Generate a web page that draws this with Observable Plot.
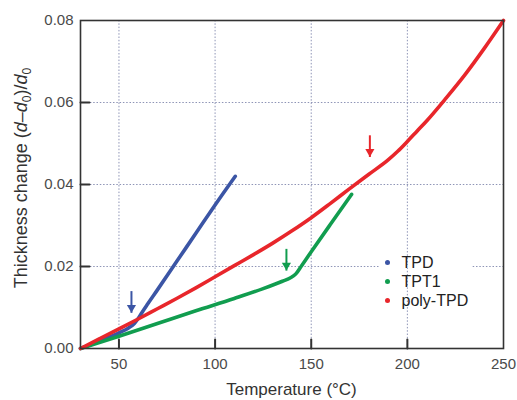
<!DOCTYPE html>
<html><head><meta charset="utf-8">
<script src="https://cdn.jsdelivr.net/npm/d3@7"></script>
<script src="https://cdn.jsdelivr.net/npm/@observablehq/plot@0.6"></script>
<style>
body{margin:0;background:#fff;}
#wrap{position:relative;width:517px;height:400px;font-family:"Liberation Sans",Arial,sans-serif;}
#gap{position:absolute;left:380px;top:264.5px;width:91px;height:3px;background:#fff;}
#legend{position:absolute;left:384.5px;top:252.5px;font-size:16px;color:#222;}
#legend .row{height:19px;line-height:19px;white-space:nowrap;}
#legend .sw{display:inline-block;width:5px;height:5px;border-radius:50%;margin-right:12px;vertical-align:middle;position:relative;top:-1px;}
</style></head><body><div id="wrap"></div>
<script>
// ---- data ----
const series = ["TPD", "TPT1", "poly-TPD"];
const colors = ["#3b55a5", "#119d4f", "#e8262b"];

const tpdT = [30, 40, 50, 55, 58, 60, 62, 65, 70, 80, 90, 100, 110.5];
const tpdV = [0, 0.0018, 0.0038, 0.0050, 0.0061, 0.0073, 0.0088, 0.0109, 0.0143, 0.0212, 0.0281, 0.0350, 0.0420];

const tpt1T = [30, 50, 70, 90, 110, 125, 135, 139, 142, 145, 150, 160, 171];
const tpt1V = [0, 0.0030, 0.0061, 0.0092, 0.0122, 0.0146, 0.0164, 0.0172, 0.0182, 0.0202, 0.0236, 0.0303, 0.0376];

const polyT = [30, 40, 50, 60, 70, 80, 90, 100, 110, 120, 130, 140, 150, 160, 170, 180, 190, 195, 200, 205, 210, 220, 230, 240, 250];
const polyV = [0, 0.0024, 0.0048, 0.0072, 0.0097, 0.0122, 0.0148, 0.0175, 0.0202, 0.0229, 0.0257, 0.0287, 0.0319, 0.0354, 0.0390, 0.0425, 0.0460, 0.0481, 0.0505, 0.0530, 0.0555, 0.0610, 0.0668, 0.0732, 0.0800];

// transition arrows
const arrowSeries = ["TPD", "TPT1", "poly-TPD"];
const arrowT = [56.5, 137.1, 180.5];
const arrowTop = [0.0140, 0.0243, 0.0520];
const arrowTip = [0.0087, 0.0190, 0.0467];

const xTicks = [50, 100, 150, 200, 250];
const yTicks = [0, 0.02, 0.04, 0.06, 0.08];
const xGrid = [50, 100, 150, 200];
const yGrid = [0.02, 0.04, 0.06];

// ---- build table ----
const rows = [
  ...tpdT.map((t, i) => ({s: "TPD", t, v: tpdV[i]})),
  ...tpt1T.map((t, i) => ({s: "TPT1", t, v: tpt1V[i]})),
  ...polyT.map((t, i) => ({s: "poly-TPD", t, v: polyV[i]}))
];
const arrows = arrowT.map((t, i) => ({s: arrowSeries[i], t, top: arrowTop[i], tip: arrowTip[i]}));

const tickShape = {draw(context, l) { context.moveTo(0, 0); context.lineTo(0, -l); }};
const gridStyle = {stroke: "#8e94b6", strokeOpacity: 1, strokeWidth: 1, strokeDasharray: "1.5,1.8"};

const plot = Plot.plot({
  width: 517, height: 400,
  marginLeft: 80, marginRight: 14, marginTop: 20, marginBottom: 52,
  style: {fontFamily: "Liberation Sans, Arial, sans-serif", fontSize: "15px", color: "#4a4a4a", background: "#fff"},
  x: {domain: [30, 250]},
  y: {domain: [0, 0.08]},
  color: {domain: series, range: colors},
  marks: [
    Plot.gridX(xGrid, gridStyle),
    Plot.gridY(yGrid, gridStyle),
    Plot.vector(xGrid, {x: d => d, frameAnchor: "bottom", length: 9, rotate: 0, anchor: "start", shape: tickShape, stroke: "#333", strokeWidth: 2}),
    Plot.vector(yGrid, {y: d => d, frameAnchor: "left", length: 9, rotate: 90, anchor: "start", shape: tickShape, stroke: "#333", strokeWidth: 2}),
    Plot.line(rows, {x: "t", y: "v", stroke: "s", z: "s", strokeWidth: 3.6, curve: "monotone-x", strokeLinecap: "round", strokeLinejoin: "round"}),
    Plot.link(arrows, {x1: "t", x2: "t", y1: "top", y2: "tip", stroke: "s", strokeWidth: 2}),
    Plot.dot(arrows, {x: "t", y: "tip", fill: "s", symbol: "triangle", r: 3.4, rotate: 180, dy: -5.3}),
    Plot.axisX(xTicks, {tickSize: 0, tickPadding: 10, label: null, fill: "#4a4a4a"}),
    Plot.axisY(yTicks, {tickSize: 0, tickPadding: 7, label: null, tickFormat: d => d.toFixed(2), fill: "#4a4a4a"}),
    Plot.frame({stroke: "#333", strokeWidth: 1.6})
  ]
});

const wrap = document.getElementById("wrap");
wrap.appendChild(plot);

// axis titles
const svg = d3.select(plot);
const xr = plot.scale("x").range, yr = plot.scale("y").range;
svg.append("text")
  .attr("x", (xr[0] + xr[1]) / 2).attr("y", 395)
  .attr("text-anchor", "middle").attr("font-size", 17).attr("fill", "#333")
  .text("Temperature (°C)");
const cy = (yr[0] + yr[1]) / 2 - 6;
const yl = svg.append("text")
  .attr("transform", `translate(27,${cy}) rotate(-90)`)
  .attr("text-anchor", "middle").attr("font-size", 18).attr("fill", "#333");
yl.append("tspan").text("Thickness change (");
yl.append("tspan").attr("font-style", "italic").text("d");
yl.append("tspan").text("–");
yl.append("tspan").attr("font-style", "italic").text("d");
yl.append("tspan").attr("font-size", 12).attr("dy", 4).text("0");
yl.append("tspan").attr("dy", -4).text(")/");
yl.append("tspan").attr("font-style", "italic").text("d");
yl.append("tspan").attr("font-size", 12).attr("dy", 4).text("0");

// legend (white strip interrupts the grid line behind it)
const gap = document.createElement("div");
gap.id = "gap";
wrap.appendChild(gap);
const legend = document.createElement("div");
legend.id = "legend";
series.forEach((s, i) => {
  const row = document.createElement("div");
  row.className = "row";
  const sw = document.createElement("span");
  sw.className = "sw";
  sw.style.background = colors[i];
  row.appendChild(sw);
  row.appendChild(document.createTextNode(s));
  legend.appendChild(row);
});
wrap.appendChild(legend);
</script>
</body></html>
